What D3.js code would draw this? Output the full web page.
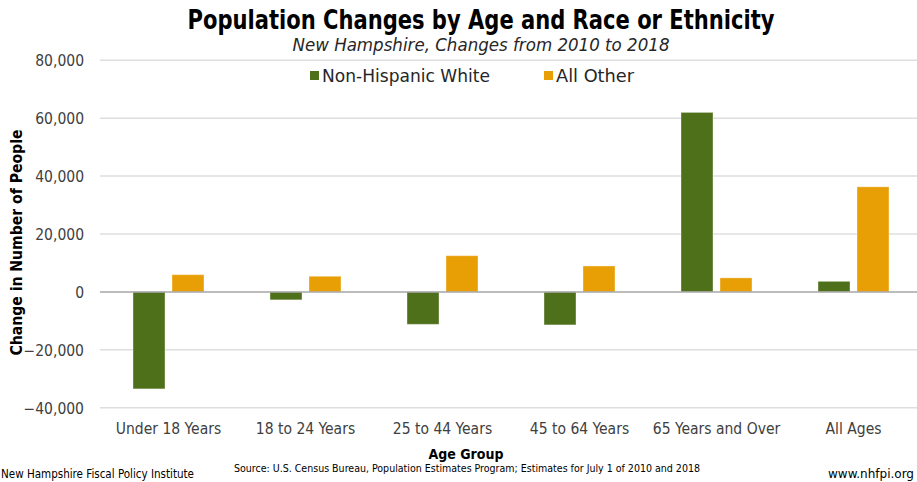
<!DOCTYPE html>
<html>
<head>
<meta charset="utf-8">
<script src="https://cdn.jsdelivr.net/npm/d3@7"></script>
<style>
  html, body { margin: 0; padding: 0; background: #fff; }
  svg { display: block; }
  .tick text { font-family: "DejaVu Sans Condensed", "DejaVu Sans", sans-serif; }
</style>
</head>
<body>
<svg id="chart" width="917" height="482"></svg>
<script>
// Age groups along the x axis
const categories = ["Under 18 Years", "18 to 24 Years", "25 to 44 Years", "45 to 64 Years", "65 Years and Over", "All Ages"];
// Series names shown in the legend
const seriesNames = ["Non-Hispanic White", "All Other"];
// Change in number of people, 2010 to 2018
const nonHispanicWhite = [-33500, -2750, -11200, -11400, 62000, 3650];
const allOther = [5950, 5400, 12500, 8950, 4850, 36300];
// Y axis ticks
const yTicks = [-40000, -20000, 0, 20000, 40000, 60000, 80000];

const colors = { "Non-Hispanic White": "#4f701b", "All Other": "#e89e05" };
const seriesValues = { "Non-Hispanic White": nonHispanicWhite, "All Other": allOther };

const svg = d3.select("#chart");
const W = 917, H = 482;
const plot = { left: 100, right: 922, top: 60.3, bottom: 407.7 };

const y = d3.scaleLinear().domain([-40000, 80000]).range([plot.bottom, plot.top]);
const x0 = d3.scaleBand().domain(categories).range([plot.left, plot.right]).padding(0);
const bw = x0.bandwidth();
const x1 = d3.scaleBand().domain(seriesNames)
  .range([bw * 0.241, bw * 0.759]).paddingInner(0.18).paddingOuter(0);

const fmt = d3.format(",");

// Gridlines
svg.append("g")
  .selectAll("line")
  .data(yTicks.filter(t => t !== 0))
  .join("line")
  .attr("x1", plot.left).attr("x2", W)
  .attr("y1", d => y(d)).attr("y2", d => y(d))
  .attr("stroke", "#dedede").attr("stroke-width", 1.5);

// Y tick labels
const yAxis = d3.axisLeft(y).tickValues(yTicks).tickFormat(fmt).tickSize(0).tickPadding(0);
const gy = svg.append("g").attr("transform", `translate(${plot.left - 16},0)`).call(yAxis);
gy.select(".domain").remove();
gy.selectAll(".tick text")
  .attr("font-size", 15.5).attr("fill", "#404040")
  .attr("dy", "0.35em");

// Bars
const groups = svg.append("g")
  .selectAll("g")
  .data(categories)
  .join("g")
  .attr("transform", d => `translate(${x0(d)},0)`);

groups.selectAll("rect")
  .data((c, i) => seriesNames.map(s => ({ s, v: seriesValues[s][i] })))
  .join("rect")
  .attr("x", d => x1(d.s))
  .attr("width", x1.bandwidth())
  .attr("y", d => Math.min(y(d.v), y(0)))
  .attr("height", d => Math.abs(y(d.v) - y(0)))
  .attr("fill", d => colors[d.s])
  .attr("stroke", "#ffffff").attr("stroke-opacity", 0.35).attr("stroke-width", 1);

// Zero line
svg.append("line")
  .attr("x1", plot.left).attr("x2", W)
  .attr("y1", y(0)).attr("y2", y(0))
  .attr("stroke", "#a6a6a6").attr("stroke-width", 1.5);

// X category labels
const xAxis = d3.axisBottom(x0).tickSize(0).tickPadding(0);
const gx = svg.append("g").attr("transform", `translate(0,${plot.bottom + 21})`).call(xAxis);
gx.select(".domain").remove();
gx.selectAll(".tick text")
  .attr("font-size", 15.5).attr("fill", "#404040").attr("dy", "0.35em");

// Title and subtitle
svg.append("text")
  .attr("x", 481).attr("y", 29)
  .attr("text-anchor", "middle")
  .attr("font-family", "'Liberation Sans Narrow', 'DejaVu Sans Condensed', sans-serif")
  .attr("font-weight", "bold").attr("font-size", 26)
  .attr("textLength", 587).attr("lengthAdjust", "spacingAndGlyphs")
  .attr("fill", "#000")
  .text("Population Changes by Age and Race or Ethnicity");

svg.append("text")
  .attr("x", 481).attr("y", 51)
  .attr("text-anchor", "middle")
  .attr("font-family", "'Liberation Sans Narrow', 'DejaVu Sans Condensed', sans-serif")
  .attr("font-style", "italic").attr("font-size", 18)
  .attr("textLength", 377).attr("lengthAdjust", "spacingAndGlyphs")
  .attr("fill", "#262626")
  .text("New Hampshire, Changes from 2010 to 2018");

// Legend
const legendItems = [
  { name: seriesNames[0], box: 310, textX: 322, len: 168 },
  { name: seriesNames[1], box: 544, textX: 556, len: 78 }
];
const lg = svg.append("g");
lg.selectAll("rect")
  .data(legendItems)
  .join("rect")
  .attr("x", d => d.box).attr("y", 71)
  .attr("width", 9).attr("height", 9)
  .attr("fill", d => colors[d.name]);
lg.selectAll("text")
  .data(legendItems)
  .join("text")
  .attr("x", d => d.textX).attr("y", 82)
  .attr("font-family", "'Liberation Sans Narrow', 'DejaVu Sans Condensed', sans-serif")
  .attr("font-size", 18.5).attr("fill", "#262626")
  .attr("textLength", d => d.len).attr("lengthAdjust", "spacingAndGlyphs")
  .text(d => d.name);

// Y axis title
svg.append("text")
  .attr("transform", `translate(22,${(130 + 355) / 2}) rotate(-90)`)
  .attr("text-anchor", "middle")
  .attr("font-family", "'DejaVu Sans', sans-serif")
  .attr("font-weight", "bold").attr("font-size", 15.5)
  .attr("textLength", 226).attr("lengthAdjust", "spacingAndGlyphs")
  .attr("fill", "#000")
  .text("Change in Number of People");

// X axis title
svg.append("text")
  .attr("x", 466).attr("y", 459)
  .attr("text-anchor", "middle")
  .attr("font-family", "'DejaVu Sans', sans-serif")
  .attr("font-weight", "bold").attr("font-size", 14.5)
  .attr("textLength", 75).attr("lengthAdjust", "spacingAndGlyphs")
  .attr("fill", "#000")
  .text("Age Group");

// Footer
svg.append("text")
  .attr("x", 467).attr("y", 472)
  .attr("text-anchor", "middle")
  .attr("font-family", "'DejaVu Sans Condensed', 'DejaVu Sans', sans-serif")
  .attr("font-size", 10.5)
  .attr("textLength", 466).attr("lengthAdjust", "spacingAndGlyphs")
  .attr("fill", "#000")
  .text("Source: U.S. Census Bureau, Population Estimates Program; Estimates for July 1 of 2010 and 2018");

svg.append("text")
  .attr("x", 1).attr("y", 478)
  .attr("font-family", "'DejaVu Sans Condensed', 'DejaVu Sans', sans-serif")
  .attr("font-size", 12)
  .attr("textLength", 193).attr("lengthAdjust", "spacingAndGlyphs")
  .attr("fill", "#000")
  .text("New Hampshire Fiscal Policy Institute");

svg.append("text")
  .attr("x", 914).attr("y", 478)
  .attr("text-anchor", "end")
  .attr("font-family", "'DejaVu Sans Condensed', 'DejaVu Sans', sans-serif")
  .attr("font-size", 12)
  .attr("textLength", 86).attr("lengthAdjust", "spacingAndGlyphs")
  .attr("fill", "#000")
  .text("www.nhfpi.org");
</script>
</body>
</html>
